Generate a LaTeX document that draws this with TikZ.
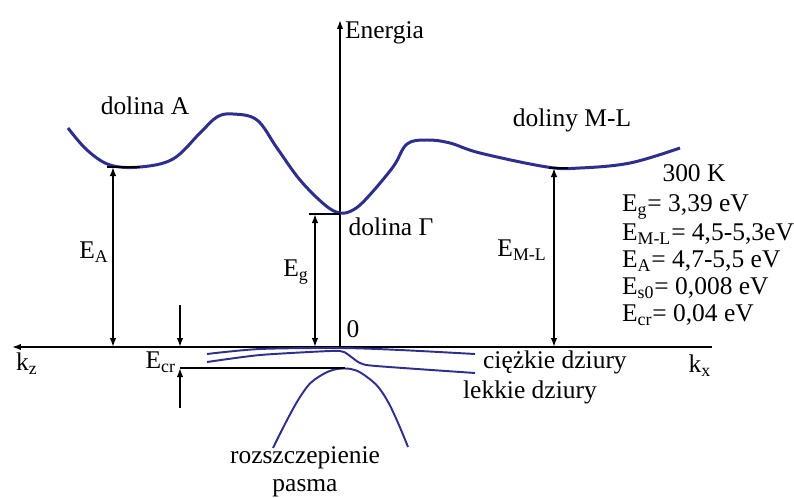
\documentclass[tikz,border=0pt]{standalone}
\usepackage{fontspec}
\setmainfont{Liberation Serif}
\usepackage{tikz}
\usetikzlibrary{
    arrows.meta
}
\definecolor{bandblue}{RGB}{46,46,140}

\begin{document}
\begin{tikzpicture}[x=0.2cm,y=0.2cm,
    font=\fontsize{14.5}{16}\selectfont,
    axis/.style={line width=0.9pt,-{Latex[length=1.8mm,width=1.3mm]}},
    gap/.style={line width=0.9pt,{Latex[length=1.8mm,width=1.3mm]}-{Latex[length=1.8mm,width=1.3mm]}},
    level/.style={line width=0.9pt},
    cband/.style={bandblue,line width=1.7pt},
    vband/.style={bandblue,line width=1.1pt},
    txt/.style={inner sep=1pt}
]
\useasboundingbox (-34,-15) rectangle (45.4,34.7);

% Axes
\coordinate (O) at (0,0);
\draw[axis,{Latex[length=1.8mm,width=1.3mm]}-] (-32.8,0) -- (37.2,0);
\draw[axis] (O) -- (0,32.7);
\node[txt,anchor=west] (energia) at (0.3,31.4) {Energia};
\node[txt] (zero) at (1.3,1.8) {0};
\node[txt] (kz) at (-31.3,-1.7) {k\textsubscript{z}};
\node[txt] (kx) at (36,-1.9) {k\textsubscript{x}};

% Conduction band
\draw[cband] plot[smooth,tension=0.6] coordinates {
    (-27.2,21.9) (-25.3,19.7) (-23,18.2) (-20,18) (-16.7,18.8) (-14,21.4)
    (-12.3,23) (-10.7,23.3) (-8.3,22.7) (-6.3,19.9) (-4,16.7) (-1.5,14.2)
    (0,13.4) (1.3,13.7) (2.7,14.9) (5.3,18) (6.7,20.3) (8.7,20.7) (11,20.4)
    (14,19.4) (20.7,18) (24,17.9) (29,18.4) (34,19.9)};

% Valley minima
\coordinate (Amin) at (-22.7,18);
\coordinate (Gmin) at (-2.5,13.3);
\coordinate (MLmin) at (21.4,17.9);
\draw[level] (-23.3,18) -- (-20,18);
\draw[level] (-3.1,13.3) -- (0,13.3);
\draw[level] (20.9,17.9) -- (22.8,17.9);

% Gap arrows
\draw[gap] (Amin) -- (Amin |- O);
\draw[gap] (Gmin) -- (Gmin |- O);
\draw[gap] (MLmin) -- (MLmin |- O);
\node[txt] (EA) at (-24.6,9.5) {E\textsubscript{A}};
\node[txt] (Eg) at (-4.4,7.5) {E\textsubscript{g}};
\node[txt] (EML) at (18.2,9.7) {E\textsubscript{M-L}};

% Valley labels
\node[txt] (dolA) at (-19.5,24.1) {dolina A};
\node[txt] (dolG) at (5.1,12) {dolina Γ};
\node[txt] (dolML) at (23.2,22.7) {doliny M-L};

% Valence bands
\draw[vband] plot[smooth,tension=0.5] coordinates {
    (-13.3,-0.7) (-8,-0.2) (0,-0.1) (6,-0.3) (13.5,-0.7)};
\draw[vband] plot[smooth,tension=0.4] coordinates {
    (-13.3,-1.5) (-8,-0.8) (-1,-0.4) (0.4,-0.5) (2,-1.6) (3.6,-1.9) (13.5,-2.6)};
\draw[vband] plot[smooth,tension=0.7] coordinates {
    (-6.7,-10.1) (-4,-5) (-2,-2.9) (0.5,-2.15) (2.7,-3) (4.7,-5.3) (6.8,-10)};
\node[txt,anchor=west] (heavy) at (14.1,-1.5) {ciężkie dziury};
\node[txt,anchor=west] (light) at (12.1,-4.5) {lekkie dziury};
\node[txt] (split1) at (-3.5,-11.1) {rozszczepienie};
\node[txt] (split2) at (-3.5,-14.1) {pasma};

% Crystal field splitting
\coordinate (crtop) at (-16,0);
\coordinate (crbot) at (-16,-2.1);
\draw[level] (crbot) -- (0.5,-2.1);
\draw[axis] (-16,4.2) -- (crtop);
\draw[axis] (-16,-6.1) -- (crbot);
\node[txt,anchor=east] (Ecr) at (-16.2,-1.5) {E\textsubscript{cr}};

% Parameters
\node[txt] (temp) at (35.4,17.4) {300 K};
\foreach \val [count=\i] in {{E\textsubscript{g}= 3,39 eV},
    {E\textsubscript{M-L}= 4,5-5,3eV},
    {E\textsubscript{A}= 4,7-5,5 eV},
    {E\textsubscript{s0}= 0,008 eV},
    {E\textsubscript{cr}= 0,04 eV}}
    \node[txt,anchor=west] (par\i) at (28,16.7-2.7*\i) {\val};

\end{tikzpicture}
\end{document}
